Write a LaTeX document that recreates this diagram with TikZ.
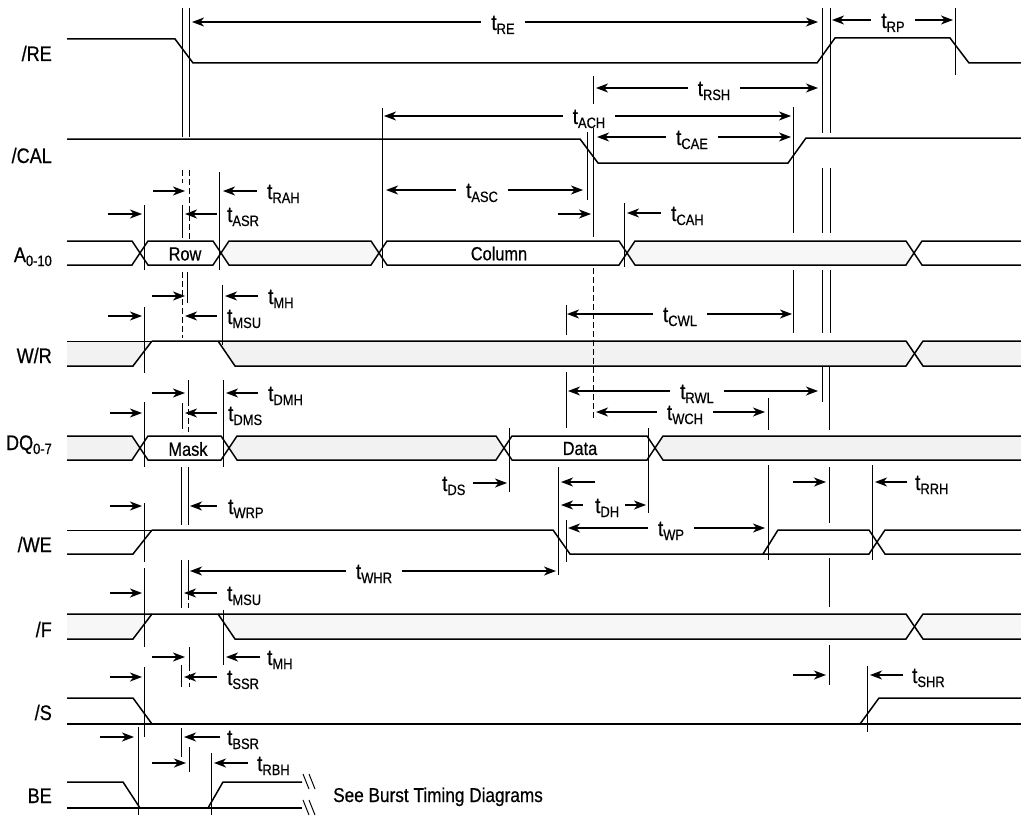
\documentclass[tikz,border=0pt]{standalone}
\usepackage{fontspec}
\setmainfont{Liberation Sans}[FakeStretch=0.86,FakeBold=0.6]
\usetikzlibrary{arrows.meta}
\newcommand\mysub[1]{\raisebox{-4pt}{\fontsize{15}{15}\selectfont #1}}
\newcommand\vl[3]{\draw[vline] (#1,#2) -- (#1,#3);}
\newcommand\vd[3]{\draw[vdash] (#1,#2) -- (#1,#3);}
\newcommand\ar[3]{\draw[arr] (#1,#3) -- (#2,#3);}
\newcommand\tlab[4]{\node[lab] (#1) at (#2,#3+8) {t\mysub{#4}};}
\newcommand\dimar[6]{%
  \node[lab,anchor=base,inner xsep=10pt] (#1) at (#5,#4+8) {t\mysub{#6}};
  \draw[arr] (#1.west |- #2,#4) -- (#2,#4);
  \draw[arr] (#1.east |- #3,#4) -- (#3,#4);}
\newcommand\hexseg[5]{\filldraw[sig,#5] (#1,{(#3+#4)/2}) -- (#1+8,#3) -- (#2-8,#3) -- (#2,{(#3+#4)/2}) -- (#2-8,#4) -- (#1+8,#4) -- cycle;}
\newcommand\hexL[5]{\filldraw[sig,#5] (#1,#3) -- (#2-8,#3) -- (#2,{(#3+#4)/2}) -- (#2-8,#4) -- (#1,#4);}
\newcommand\hexR[5]{\filldraw[sig,#5] (#2,#3) -- (#1+8,#3) -- (#1,{(#3+#4)/2}) -- (#1+8,#4) -- (#2,#4);}
\tikzset{
  sig/.style={line width=1.5pt},
  thinsig/.style={line width=0.8pt},
  vline/.style={line width=1pt},
  vdash/.style={line width=1pt, dash pattern=on 6pt off 3pt},
  arr/.style={line width=1.2pt, -{Stealth[length=12pt,width=9pt,inset=3.5pt]}},
  lab/.style={anchor=base west, inner sep=0pt, font=\fontsize{22}{22}\selectfont},
  sname/.style={anchor=base east, inner sep=0pt, font=\fontsize{21}{21}\selectfont},
  btxt/.style={inner sep=0pt, font=\fontsize{19}{19}\selectfont},
  note/.style={anchor=base west, inner sep=0pt, font=\fontsize{20}{20}\selectfont},
  dc/.style={fill=black!5},
  dcl/.style={fill=black!3},
  wf/.style={fill=white}
}
\begin{document}
\begin{tikzpicture}[x=1pt,y=-1pt]
\useasboundingbox (0,0) rectangle (1021,816);

% ---------- signal names ----------
\node[sname] (nRE)  at (52,61)  {/RE};
\node[sname] (nCAL) at (52,163) {/CAL};
\node[sname] (nA)   at (52,262) {A\mysub{0-10}};
\node[sname] (nWR)  at (52,363) {W/R};
\node[sname] (nDQ)  at (52,450) {DQ\mysub{0-7}};
\node[sname] (nWE)  at (52,552) {/WE};
\node[sname] (nF)   at (52,637) {/F};
\node[sname] (nS)   at (52,720) {/S};
\node[sname] (nBE)  at (52,803) {BE};

% ---------- waveforms ----------
% /RE
\draw[sig] (67,39) -- (175,39) -- (193,63) -- (817,63) -- (835,38) -- (950,38) -- (969,63) -- (1021,63);
% /CAL
\draw[sig] (67,139) -- (580,139) -- (598,163) -- (788,163) -- (806,138) -- (1021,138);
% A0-10
\hexL{67}{140}{241}{265}{wf}
\hexseg{140}{221}{241}{265}{wf}
\hexseg{221}{379}{241}{265}{dcl}
\hexseg{379}{627}{241}{265}{wf}
\hexseg{627}{914}{241}{265}{dcl}
\hexR{914}{1021}{241}{265}{wf}
\node[btxt] (tRow) at (185,254) {Row};
\node[btxt] (tCol) at (499,253.5) {Column};
% W/R
\fill[dc] (67,341) -- (152,341) -- (133,366) -- (67,366) -- cycle;
\fill[dc] (218,341) -- (235,366) -- (906,366) -- (914.5,353.5) -- (906,341) -- cycle;
\fill[dc] (914.5,353.5) -- (923,341) -- (1021,341) -- (1021,366) -- (923,366) -- cycle;
\draw[thinsig] (67,341) -- (152,341);
\draw[sig] (152,341) -- (906,341) -- (923,366) -- (1021,366);
\draw[sig] (67,366) -- (133,366) -- (152,341);
\draw[sig] (218,341) -- (235,366) -- (906,366) -- (923,341) -- (1021,341);
% DQ0-7
\hexL{67}{140}{436}{460}{dc}
\hexseg{140}{229}{436}{460}{wf}
\hexseg{229}{504}{436}{460}{dc}
\hexseg{504}{655}{436}{460}{wf}
\hexR{655}{1021}{436}{460}{dc}
\node[btxt] (tMask) at (188,449) {Mask};
\node[btxt] (tData) at (580,448.5) {Data};
% /WE
\draw[thinsig] (67,530) -- (152,530);
\draw[sig] (152,530) -- (553,530) -- (570,554) -- (869,554) -- (885,530) -- (1021,530);
\draw[sig] (67,554) -- (133,554) -- (152,530);
\draw[sig] (763,554) -- (778,530) -- (869,530) -- (885,554) -- (1021,554);
% /F
\fill[dcl] (67,614) -- (152,614) -- (133,639) -- (67,639) -- cycle;
\fill[dcl] (218,614) -- (235,639) -- (906,639) -- (914.5,626.5) -- (906,614) -- cycle;
\fill[dcl] (914.5,626.5) -- (923,614) -- (1021,614) -- (1021,639) -- (923,639) -- cycle;
\draw[sig] (67,614) -- (906,614) -- (923,639) -- (1021,639);
\draw[sig] (67,639) -- (133,639) -- (152,614);
\draw[sig] (218,614) -- (235,639) -- (906,639) -- (923,614) -- (1021,614);
% /S
\draw[sig] (67,698) -- (133,698) -- (152,724);
\draw[sig] (67,724) -- (1021,724);
\draw[sig] (860,724) -- (879,698) -- (1021,698);
% BE
\draw[sig] (67,782) -- (123,782) -- (140,808);
\draw[sig] (67,808) -- (302,808);
\draw[sig] (208,808) -- (223,782) -- (302,782);
\draw[vline] (303,774) -- (309,789);
\draw[vline] (309,774) -- (315,789);
\draw[vline] (303,800) -- (309,815);
\draw[vline] (309,800) -- (315,815);
\node[note] (tSee) at (333,802) {See Burst Timing Diagrams};

% ---------- vertical reference lines ----------
% left group
\vl{182}{8}{137} \vl{189}{8}{137}
\vd{182}{170}{183} \vl{182}{205}{238} \vd{189}{170}{240}
\vl{144}{205}{270} \vl{219}{172}{270}
\vd{182}{272}{338} \vl{187}{272}{303}
\vl{144}{307}{373} \vl{222}{285}{345}
\vl{188}{380}{400} \vd{188}{400}{432}
\vl{182}{403}{423} \vd{182}{423}{432}
\vl{144}{402}{467} \vl{223}{380}{467}
\vl{181}{467}{525} \vl{188}{467}{525}
\vl{144}{503}{562}
\vl{181}{560}{608} \vl{188}{560}{585} \vd{188}{585}{608}
\vl{144}{568}{647} \vl{223}{610}{665}
\vl{189}{647}{665} \vd{189}{665}{687} \vl{181}{665}{687}
\vl{144}{667}{737}
\vl{181}{728}{757} \vl{189}{747}{772}
\vl{138}{727}{815} \vl{211}{753}{815}
% middle group
\vl{382}{108}{268}
\vl{587}{132}{200}
\vl{593}{76}{104} \vl{593}{128}{237} \vd{593}{268}{420}
\vl{624}{203}{267}
\vl{509}{428}{492}
\vl{566}{305}{335} \vl{566}{372}{428} \vl{566}{520}{562}
\vl{558}{467}{575}
\vl{648}{428}{513}
\vl{768}{398}{430} \vl{768}{465}{560}
% right group
\vl{793}{107}{233} \vl{793}{270}{333}
\vl{822}{8}{133} \vl{830}{8}{133}
\vl{822}{168}{233} \vl{830}{168}{233}
\vl{822}{270}{333} \vl{830}{270}{333}
\vl{822}{367}{402} \vl{829}{367}{430}
\vl{829}{467}{523} \vl{829}{558}{607} \vl{829}{645}{685}
\vl{872}{465}{560}
\vl{867}{666}{732}
\vl{955}{8}{75}

% ---------- dimension arrows with centred labels ----------
\dimar{dRE}{192}{818}{22}{503}{RE}
\dimar{dRP}{832}{953}{20}{893}{RP}
\dimar{dRSH}{596}{818}{88}{714}{RSH}
\dimar{dACH}{384}{791}{116}{589}{ACH}
\dimar{dCAE}{597}{791}{137}{692}{CAE}
\dimar{dASC}{386}{583}{190}{482}{ASC}
\dimar{dCWL}{567}{792}{314}{680}{CWL}
\dimar{dRWL}{568}{818}{391}{697}{RWL}
\dimar{dWCH}{596}{765}{412}{685}{WCH}
\dimar{dWP}{568}{765}{528}{671}{WP}
\dimar{dWHR}{190}{556}{571}{374}{WHR}

% ---------- short arrows ----------
\ar{153}{185}{191} \ar{257}{223}{191} \tlab{lRAH}{267}{191}{RAH}
\ar{108}{142}{214} \ar{217}{185}{214} \tlab{lASR}{227}{214}{ASR}
\ar{152}{185}{296} \ar{258}{225}{296} \tlab{lMH}{268}{296}{MH}
\ar{108}{142}{316} \ar{217}{185}{316} \tlab{lMSU}{227}{316}{MSU}
\ar{152}{185}{393} \ar{258}{226}{393} \tlab{lDMH}{268}{393}{DMH}
\ar{110}{142}{413} \ar{217}{185}{413} \tlab{lDMS}{228}{413}{DMS}
\ar{110}{142}{506} \ar{217}{190}{506} \tlab{lWRP}{228}{506}{WRP}
\ar{110}{142}{593} \ar{217}{184}{593} \tlab{lMSUb}{227}{593}{MSU}
\ar{152}{185}{657} \ar{260}{226}{657} \tlab{lMHb}{267}{657}{MH}
\ar{110}{142}{677} \ar{217}{184}{677} \tlab{lSSR}{227}{677}{SSR}
\ar{100}{134}{737} \ar{220}{184}{737} \tlab{lBSR}{227}{737}{BSR}
\ar{152}{186}{763} \ar{248}{214}{763} \tlab{lRBH}{257}{763}{RBH}
\ar{558}{591}{214} \ar{661}{627}{213} \tlab{lCAH}{671}{213}{CAH}
\ar{473}{507}{483} \tlab{lDS}{442}{483}{DS}
\ar{595}{561}{482}
\ar{583}{561}{505} \ar{625}{646}{505} \tlab{lDH}{595}{505}{DH}
\ar{793}{826}{482} \ar{907}{875}{482} \tlab{lRRH}{915}{482}{RRH}
\ar{793}{826}{675} \ar{903}{870}{675} \tlab{lSHR}{912}{675}{SHR}
\end{tikzpicture}
\end{document}
